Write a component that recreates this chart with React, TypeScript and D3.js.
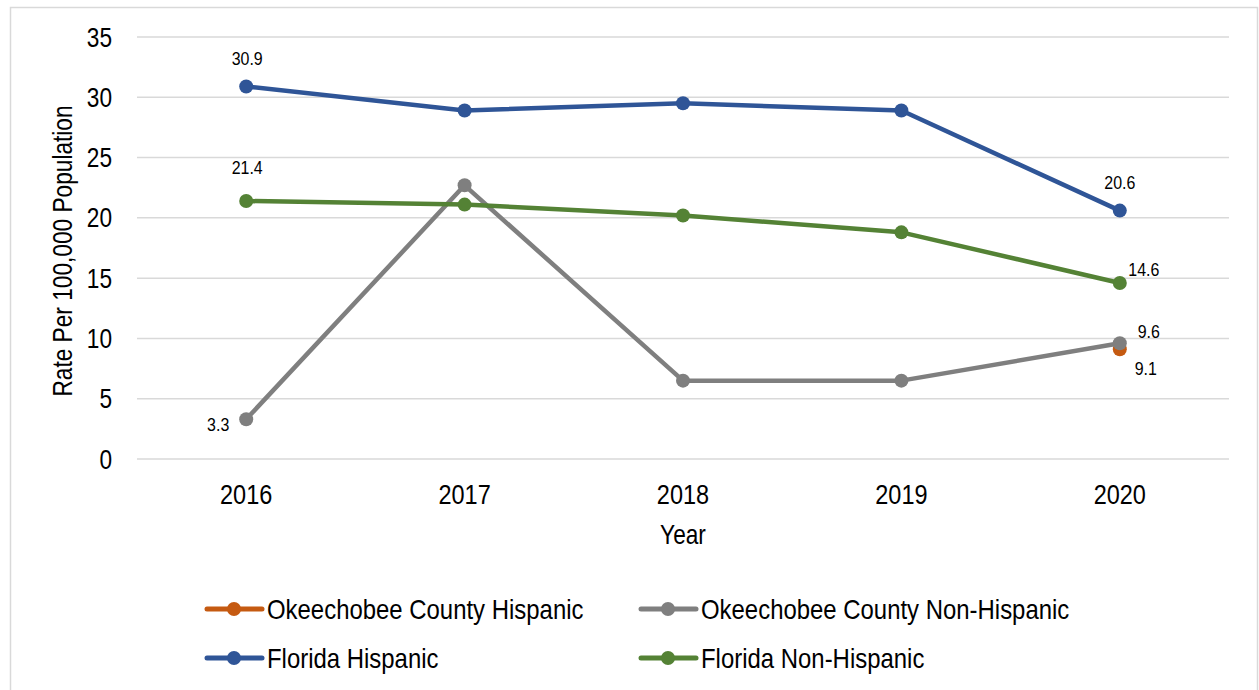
import React from "react";
import * as d3 from "d3";

const years = ["2016", "2017", "2018", "2019", "2020"];
const okeeHispanic: (number | null)[] = [null, null, null, null, 9.1];
const okeeNonHispanic: (number | null)[] = [3.3, 22.7, 6.5, 6.5, 9.6];
const flHispanic: (number | null)[] = [30.9, 28.9, 29.5, 28.9, 20.6];
const flNonHispanic: (number | null)[] = [21.4, 21.1, 20.2, 18.8, 14.6];
const yTicks = [0, 5, 10, 15, 20, 25, 30, 35];

const seriesNames = [
  "Okeechobee County Hispanic",
  "Okeechobee County Non-Hispanic",
  "Florida Hispanic",
  "Florida Non-Hispanic",
];
const seriesValues = [okeeHispanic, okeeNonHispanic, flHispanic, flNonHispanic];
const seriesColors = ["#c55a11", "#7f7f7f", "#2f5597", "#548235"];

// data labels: [seriesIndex, yearIndex, dx, baseline dy]
const labelSpecs: [number, number, number, number][] = [
  [0, 4, 26, 26],
  [1, 0, -28, 12],
  [1, 4, 29, -5],
  [2, 0, 1, -21],
  [2, 4, 0, -22],
  [3, 0, 1, -27],
  [3, 4, 24, -7],
];

const FONT = "'Liberation Sans', Arial, sans-serif";
const SX = 0.84;

function NText(props: {
  x: number;
  y: number;
  size: number;
  anchor?: string;
  rotate?: number;
  children: React.ReactNode;
}) {
  const { x, y, size, anchor = "start", rotate = 0, children } = props;
  return (
    <text
      transform={`translate(${x},${y}) rotate(${rotate}) scale(${SX},1)`}
      textAnchor={anchor}
      fontSize={size}
      fill="#000"
    >
      {children}
    </text>
  );
}

export default function App() {
  const W = 1259, H = 690;
  const x = d3.scaleBand<string>().domain(years).range([137, 1229]);
  const y = d3.scaleLinear().domain([0, 35]).range([459, 37]);
  const cx = (i: number) => (x(years[i]) as number) + x.bandwidth() / 2;

  const line = d3
    .line<number | null>()
    .defined((d) => d !== null)
    .x((_, i) => cx(i))
    .y((d) => y(d as number));

  return (
    <svg width={W} height={H} style={{ position: "absolute", left: 0, top: 0 }} fontFamily={FONT}>
      <rect x={0} y={0} width={W} height={H} fill="#fff" />
      <rect x={10.5} y={7.5} width={1247} height={690} fill="none" stroke="#d9d9d9" strokeWidth={1.5} />
      {yTicks.map((t) => (
        <g key={t}>
          <line x1={137} x2={1229} y1={y(t)} y2={y(t)} stroke="#d9d9d9" strokeWidth={1.5} />
          <NText x={112} y={y(t) + 9.5} size={27} anchor="end">
            {t}
          </NText>
        </g>
      ))}
      {years.map((yr, i) => (
        <NText key={yr} x={cx(i)} y={504} size={28} anchor="middle">
          {yr}
        </NText>
      ))}
      <NText x={683} y={544} size={27} anchor="middle">
        Year
      </NText>
      <NText x={72} y={251} size={27} anchor="middle" rotate={-90}>
        Rate Per 100,000 Population
      </NText>
      {seriesValues.map((vals, s) => (
        <g key={s}>
          <path d={line(vals) || ""} fill="none" stroke={seriesColors[s]} strokeWidth={4.5} strokeLinejoin="round" />
          {vals.map((v, i) =>
            v === null ? null : <circle key={i} cx={cx(i)} cy={y(v)} r={7} fill={seriesColors[s]} />
          )}
        </g>
      ))}
      {labelSpecs.map(([s, i, dx, dy], k) => {
        const v = seriesValues[s][i] as number;
        return (
          <NText key={k} x={cx(i) + dx} y={y(v) + dy} size={19} anchor="middle">
            {v.toFixed(1)}
          </NText>
        );
      })}
      {seriesNames.map((n, s) => {
        const col = s % 2;
        const row = Math.floor(s / 2);
        const lx = col === 0 ? 207 : 641;
        const ly = row === 0 ? 609 : 658;
        return (
          <g key={n}>
            <line x1={lx} x2={lx + 55} y1={ly} y2={ly} stroke={seriesColors[s]} strokeWidth={5} strokeLinecap="round" />
            <circle cx={lx + 27} cy={ly} r={7} fill={seriesColors[s]} />
            <NText x={lx + 60} y={ly + 10} size={28.5}>
              {n}
            </NText>
          </g>
        );
      })}
    </svg>
  );
}
